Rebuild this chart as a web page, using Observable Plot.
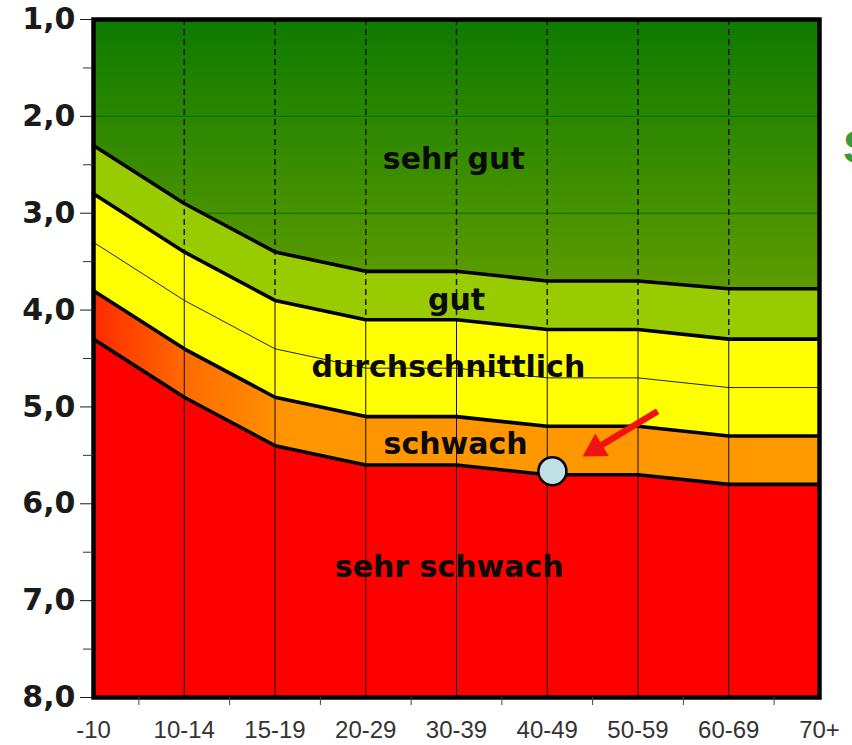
<!DOCTYPE html>
<html><head><meta charset="utf-8">
<script src="https://cdn.jsdelivr.net/npm/d3@7"></script>
<script src="https://cdn.jsdelivr.net/npm/@observablehq/plot@0.6"></script>
<style>body{margin:0;background:#fff;overflow:hidden}</style>
</head><body><div id="chart"></div>
<script>
// Altersklassen (x-Achse)
const categories = ["-10","10-14","15-19","20-29","30-39","40-49","50-59","60-69","70+"];
// Grenzlinien (Notenwerte) je Altersklasse
const sehrGutGrenze      = [2.3, 2.9, 3.4, 3.6, 3.6, 3.7, 3.7, 3.78, 3.78];
const gutGrenze          = [2.8, 3.4, 3.9, 4.1, 4.1, 4.2, 4.2, 4.3, 4.3];
const mittelLinie        = [3.3, 3.9, 4.4, 4.6, 4.6, 4.7, 4.7, 4.8, 4.8];
const durchschnittGrenze = [3.8, 4.4, 4.9, 5.1, 5.1, 5.2, 5.2, 5.3, 5.3];
const schwachGrenze      = [4.3, 4.9, 5.4, 5.6, 5.6, 5.7, 5.7, 5.8, 5.8];
// Achsen
const yTicks = [1, 2, 3, 4, 5, 6, 7, 8];
const yMinorTicks = [1.5, 2.5, 3.5, 4.5, 5.5, 6.5, 7.5];
const xTickMarks = [0.5, 1.5, 2.5, 3.5, 4.5, 5.5, 6.5, 7.5];
const gridLines = [2, 3];
// Bereichsbeschriftungen
const bandLabels = ["sehr gut", "gut", "durchschnittlich", "schwach", "sehr schwach"];
const bandLabelX = [3.97, 4.0, 3.91, 3.99, 3.92];
const bandLabelY = [2.44, 3.905, 4.593, 5.388, 6.658];
// Markierung (Punkt) und Pfeil
const markerX = [5.057];
const markerY = [5.663];
const arrowFromX = [6.217], arrowFromY = [5.044];
const arrowHeadX = [5.532], arrowHeadY = [5.431];
// angeschnittener Titelbuchstabe am rechten Rand
const sideText = ["S"];
const sideTextX = [8.26], sideTextY = [2.33];

const yTop = 1, yBottom = 8;
const rows = categories.map((c, i) => ({
  i, A: sehrGutGrenze[i], B: gutGrenze[i], T: mittelLinie[i], C: durchschnittGrenze[i], D: schwachGrenze[i]
}));
const inner = rows.filter(r => r.i > 0 && r.i < categories.length - 1);
const labels = bandLabels.map((t, k) => ({t, x: bandLabelX[k], y: bandLabelY[k]}));
const marker = markerX.map((x, k) => ({x, y: markerY[k]}));
const arrow = arrowFromX.map((x, k) => ({x1: x, y1: arrowFromY[k], x2: arrowHeadX[k], y2: arrowHeadY[k]}));
const side = sideText.map((t, k) => ({t, x: sideTextX[k], y: sideTextY[k]}));

function defs() {
  const d = d3.create("svg:defs");
  const g1 = d.append("linearGradient").attr("id", "gTop").attr("x1", 0).attr("y1", 0).attr("x2", 0).attr("y2", 1);
  g1.append("stop").attr("offset", 0).attr("stop-color", "#0d7a00");
  g1.append("stop").attr("offset", 1).attr("stop-color", "#5e9c00");
  const g2 = d.append("linearGradient").attr("id", "gOr").attr("x1", 0).attr("y1", 0).attr("x2", 1).attr("y2", 0);
  g2.append("stop").attr("offset", 0).attr("stop-color", "#ff2a00");
  g2.append("stop").attr("offset", 0.13).attr("stop-color", "#ff6c00");
  g2.append("stop").attr("offset", 0.27).attr("stop-color", "#ff9500");
  g2.append("stop").attr("offset", 1).attr("stop-color", "#ff9900");
  return d.node();
}

const thick = 3.6;
const chart = Plot.plot({
  width: 852,
  height: 745,
  marginLeft: 93,
  marginRight: 33,
  marginTop: 19,
  marginBottom: 48,
  style: {background: "white", overflow: "hidden"},
  x: {domain: [0, categories.length - 1], label: null},
  y: {domain: [yTop, yBottom], reverse: true, label: null},
  marks: [
    defs,
    Plot.areaY(rows, {x: "i", y1: () => yTop, y2: "A", fill: "url(#gTop)"}),
    Plot.ruleY(gridLines, {stroke: "#0a7000", strokeWidth: 1}),
    Plot.areaY(rows, {x: "i", y1: "A", y2: "B", fill: "#99cc00"}),
    Plot.areaY(rows, {x: "i", y1: "B", y2: "C", fill: "#ffff00"}),
    Plot.areaY(rows, {x: "i", y1: "C", y2: "D", fill: "url(#gOr)"}),
    Plot.areaY(rows, {x: "i", y1: "D", y2: () => yBottom, fill: "#ff0000"}),
    Plot.ruleX(inner, {x: "i", y1: () => yTop, y2: "B", stroke: "#111", strokeWidth: 1.4, strokeDasharray: "6,4"}),
    Plot.ruleX(inner, {x: "i", y1: "B", y2: () => yBottom, stroke: "#111", strokeWidth: 1}),
    Plot.line(rows, {x: "i", y: "T", stroke: "#222", strokeWidth: 1}),
    Plot.line(rows, {x: "i", y: "A", stroke: "#000", strokeWidth: thick}),
    Plot.line(rows, {x: "i", y: "B", stroke: "#000", strokeWidth: thick}),
    Plot.line(rows, {x: "i", y: "C", stroke: "#000", strokeWidth: thick}),
    Plot.line(rows, {x: "i", y: "D", stroke: "#000", strokeWidth: thick}),
    Plot.text(labels, {x: "x", y: "y", text: "t", fontSize: 30, fontWeight: "bold", fontFamily: "DejaVu Sans", fill: "#0a0a0a"}),
    Plot.link(arrow, {x1: "x1", y1: "y1", x2: "x2", y2: "y2", stroke: "#f21212", strokeWidth: 6.5}),
    Plot.dot(arrow, {x: "x2", y: "y2", symbol: "triangle", r: 9.7, fill: "#f21212", stroke: "none", rotate: 239}),
    Plot.dot(marker, {x: "x", y: "y", r: 14, fill: "#bfe0e5", stroke: "#000", strokeWidth: 2.5}),
    Plot.frame({stroke: "#000", strokeWidth: 4.5}),
    Plot.text(side, {x: "x", y: "y", text: "t", textAnchor: "start", fontSize: 46, fontWeight: "bold", fontFamily: "Liberation Sans", fill: "#3a9a3a"}),
    Plot.axisY(yTicks, {tickSize: 13, tickPadding: 5, tickFormat: d => d.toFixed(1).replace(".", ","),
      fontSize: 30, fontWeight: "bold", fontFamily: "DejaVu Sans", color: "#1a1a1a"}),
    Plot.axisY(yMinorTicks, {tickSize: 10, tickFormat: () => "", color: "#333"}),
    Plot.axisX(xTickMarks, {tickSize: 8, tickFormat: () => "", color: "#444"}),
    Plot.axisX(categories.map((c, i) => i), {tickSize: 0, tickPadding: 23, tickFormat: i => categories[i],
      fontSize: 24, fontFamily: "Liberation Sans", color: "#333"})
  ]
});
document.getElementById("chart").appendChild(chart);
</script>
</body></html>
